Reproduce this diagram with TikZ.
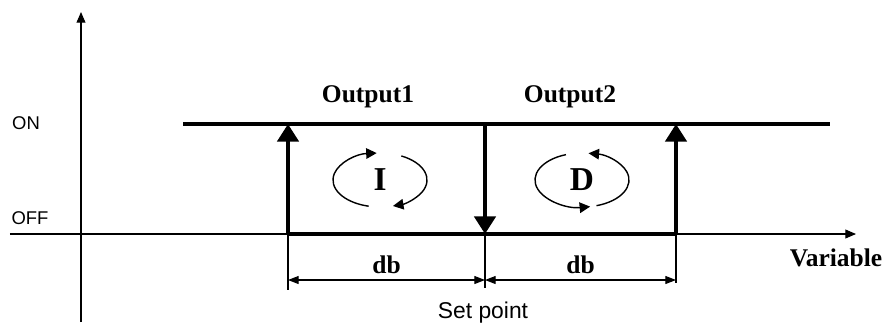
\documentclass[tikz,border=0pt]{standalone}
\usepackage{fontspec}
\setmainfont{Liberation Serif}
\setsansfont{Liberation Sans}
\usetikzlibrary{arrows.meta}
\tikzset{
  axisline/.style={line width=0.6pt,-{Triangle[width=5pt,length=6pt]}},
  thinline/.style={line width=0.6pt},
  boldline/.style={line width=2.3pt},
  switcharrow/.style={line width=2.3pt,-{Triangle[width=12pt,length=10pt]}},
  dimarrow/.style={line width=0.6pt,{Triangle[width=4.5pt,length=6pt]}-{Triangle[width=4.5pt,length=6pt]}},
  looparrow/.style={line width=0.8pt,-{Triangle[width=6pt,length=6pt]}},
  serlabel/.style={font=\fontsize{14.5}{16}\selectfont\bfseries,inner sep=0pt},
  modelabel/.style={font=\fontsize{19}{21}\selectfont\bfseries,inner sep=0pt},
  sanslabel/.style={font=\fontsize{10.5}{12}\selectfont\sffamily,inner sep=0pt}
}
\begin{document}
\begin{tikzpicture}
  \useasboundingbox (-1.62,-1.86) rectangle (16.14,4.68);
  % axes
  \coordinate (yb) at (0,-1.76);
  \coordinate (yt) at (0,4.44);
  \coordinate (xl) at (-1.42,0);
  \coordinate (xr) at (15.5,0);
  \draw[axisline] (yb) -- (yt);
  \draw[axisline] (xl) -- (xr);
  \node[sanslabel] (on) at (-1.1,2.22) {ON};
  \node[sanslabel] (off) at (-1.02,0.32) {OFF};
  \node[serlabel] (var) at (15.1,-0.48) {Variable};
  % switching points
  \coordinate (a0) at (4.14,0);   \coordinate (a1) at (4.14,2.2);
  \coordinate (s0) at (8.08,0);   \coordinate (s1) at (8.08,2.2);
  \coordinate (b0) at (11.9,0);   \coordinate (b1) at (11.9,2.2);
  \coordinate (onl) at (2.04,2.2);
  \coordinate (onr) at (14.98,2.2);
  \draw[boldline] (onl) -- (onr);
  \draw[boldline] (a0) -- (b0);
  \draw[switcharrow] (a0) -- (a1);
  \draw[switcharrow] (s1) -- (s0);
  \draw[switcharrow] (b0) -- (b1);
  \node[serlabel] (out1) at (5.74,2.74) {Output1};
  \node[serlabel] (out2) at (9.78,2.74) {Output2};
  % I and D loops
  \node[modelabel] (i) at (5.98,1.08) {I};
  \node[modelabel] (d) at (10.02,1.08) {D};
  \draw[looparrow] (i.center) ++(256:0.94 and 0.54) arc[start angle=256,end angle=94,x radius=0.94,y radius=0.54];
  \draw[looparrow] (i.center) ++(63:0.94 and 0.54) arc[start angle=63,end angle=-74,x radius=0.94,y radius=0.54];
  \draw[looparrow] (d.center) ++(110:0.94 and 0.54) arc[start angle=110,end angle=280,x radius=0.94,y radius=0.54];
  \draw[looparrow] (d.center) ++(-72:0.94 and 0.54) arc[start angle=-72,end angle=82,x radius=0.94,y radius=0.54];
  % dead bands
  \coordinate (ta) at (4.14,-1.12);
  \coordinate (ts) at (8.08,-1.08);
  \coordinate (tb) at (11.9,-0.98);
  \draw[thinline] (a0) -- (ta);
  \draw[thinline] (s0) -- (ts);
  \draw[thinline] (b0) -- (tb);
  \draw[dimarrow] (4.14,-0.92) coordinate (da) -- (8.08,-0.92) coordinate (ds);
  \draw[dimarrow] (ds) -- (11.9,-0.92) coordinate (db);
  \node[serlabel] (db1) at (6.11,-0.62) {db};
  \node[serlabel] (db2) at (9.99,-0.62) {db};
  \node[sanslabel,font=\fontsize{13}{15}\selectfont\sffamily] (sp) at (8.04,-1.58) {Set point};
\end{tikzpicture}
\end{document}
